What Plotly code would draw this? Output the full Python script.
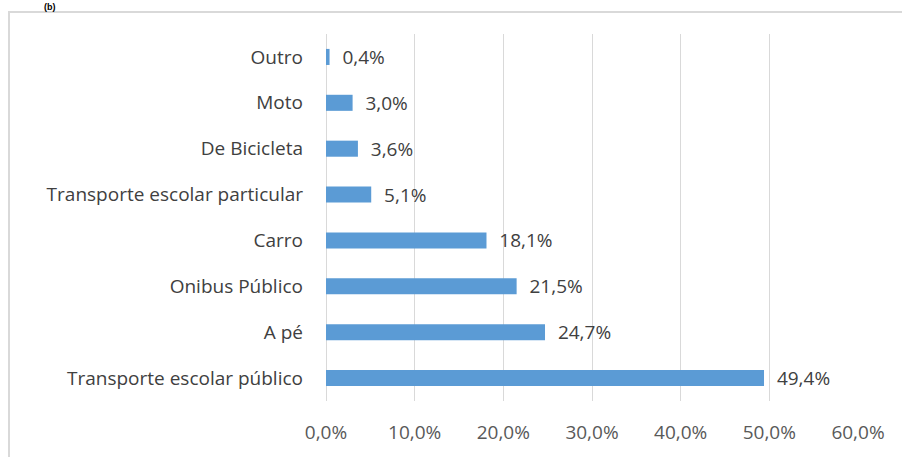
import plotly.graph_objects as go

categories = ["Transporte escolar público", "A pé", "Onibus Público", "Carro",
              "Transporte escolar particular", "De Bicicleta", "Moto", "Outro"]
values = [49.4, 24.7, 21.5, 18.1, 5.1, 3.6, 3.0, 0.4]
x_ticks = [0, 10, 20, 30, 40, 50, 60]
x_tick_labels = ["0,0%", "10,0%", "20,0%", "30,0%", "40,0%", "50,0%", "60,0%"]

FONT = "Open Sans"
W, H = 902, 457
L, R, T, B = 326, 44, 34, 56
pw, ph = W - L - R, H - T - B

def px(x):
    return (x - L) / pw

def py(y):
    return (H - B - y) / ph

fig = go.Figure(go.Bar(
    x=values, y=categories, orientation="h",
    marker=dict(color="#5b9bd5", line=dict(width=0)),
    width=0.35,
    texttemplate="\u00a0\u00a0%{x:.1f}%", textposition="outside",
    constraintext="none",
    textfont=dict(family=FONT, size=19, color="#404040"),
    cliponaxis=False,
))

fig.update_layout(
    width=W, height=H,
    margin=dict(l=L, r=R, t=T, b=B, autoexpand=False),
    paper_bgcolor="white", plot_bgcolor="white",
    separators=",.",
    showlegend=False,
    xaxis=dict(range=[0, 60], tickvals=x_ticks, ticktext=x_tick_labels,
               showgrid=True, gridcolor="#d9d9d9", gridwidth=1,
               zeroline=True, zerolinecolor="#d9d9d9", zerolinewidth=1,
               showline=False, ticks="", ticklabelstandoff=18,
               tickfont=dict(family=FONT, size=19, color="#595959")),
    yaxis=dict(categoryorder="array", categoryarray=categories,
               showgrid=False, showline=False, ticks="", ticklabelstandoff=22,
               tickfont=dict(family=FONT, size=19, color="#404040")),
    shapes=[dict(type="rect", xref="paper", yref="paper",
                 x0=px(9), x1=px(W + 10), y0=py(H + 10), y1=py(12),
                 line=dict(color="#d9d9d9", width=2), layer="below")],
    annotations=[dict(text="<b>(b)</b>", xref="paper", yref="paper",
                      x=px(42), y=py(0), xanchor="left", yanchor="top",
                      showarrow=False,
                      font=dict(family="Liberation Sans", size=9, color="black"))],
)

fig.write_html("out.html", config={"displayModeBar": False},
               post_script="document.body.style.margin='0';")
